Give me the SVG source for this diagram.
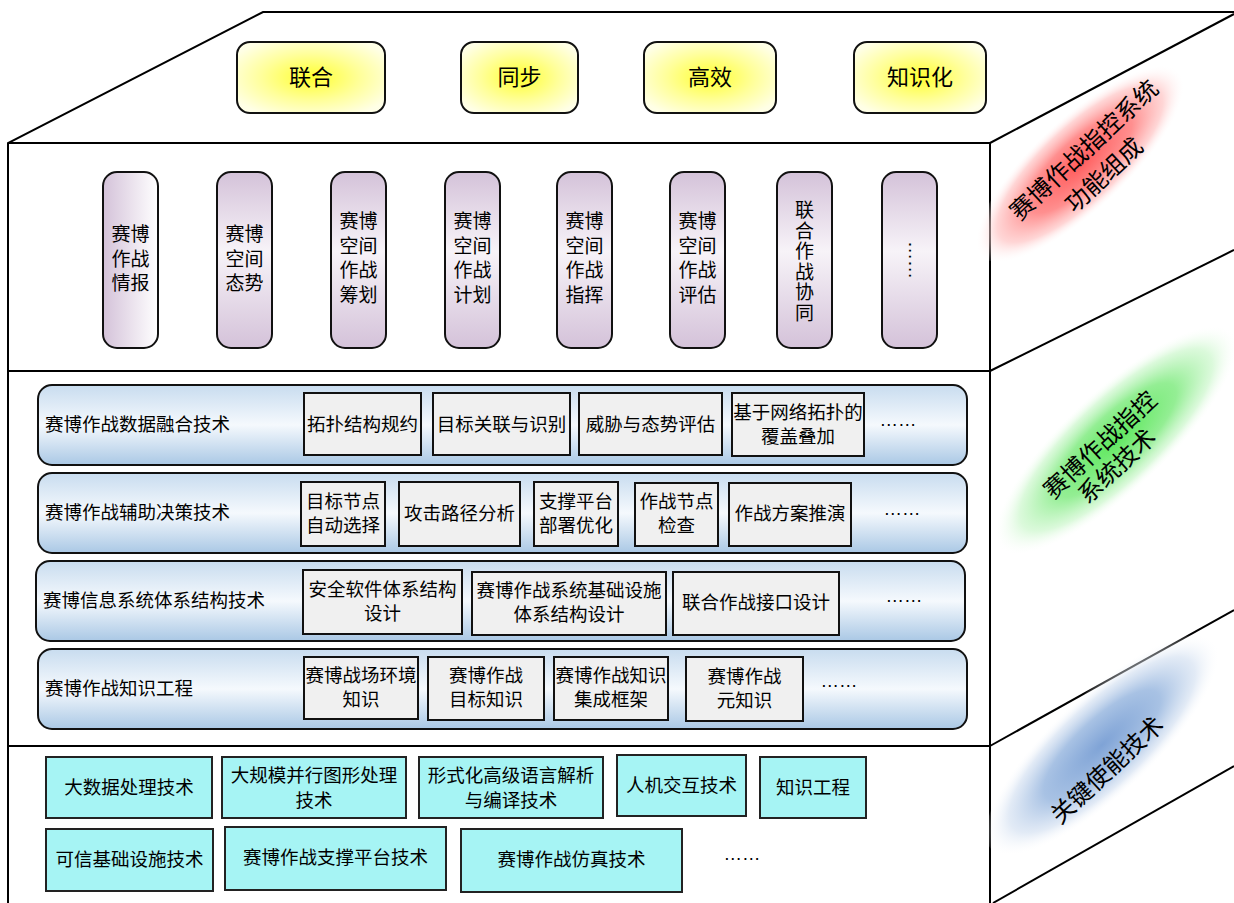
<svg xmlns="http://www.w3.org/2000/svg" width="1234" height="903" viewBox="0 0 1234 903">
<defs>
<radialGradient id="gYellow" cx="50%" cy="50%" r="60%">
<stop offset="0" stop-color="#ffff30"/>
<stop offset="0.55" stop-color="#ffff9a"/>
<stop offset="1" stop-color="#ffffe6"/>
</radialGradient>
<linearGradient id="gPill" x1="0" y1="0" x2="0" y2="1">
<stop offset="0" stop-color="#d4c2d9"/>
<stop offset="0.45" stop-color="#f7f3f8"/>
<stop offset="1" stop-color="#d4c2d9"/>
</linearGradient>
<linearGradient id="gPill1" x1="0" y1="0" x2="1" y2="0">
<stop offset="0" stop-color="#d4c2d9"/>
<stop offset="1" stop-color="#ffffff"/>
</linearGradient>
<linearGradient id="gRow" x1="0" y1="0" x2="0" y2="1">
<stop offset="0" stop-color="#c8dcef"/>
<stop offset="0.5" stop-color="#f5f9fd"/>
<stop offset="1" stop-color="#aac8e5"/>
</linearGradient>
<radialGradient id="gRed">
<stop offset="0" stop-color="#ff5c5c"/>
<stop offset="0.5" stop-color="#ff8f8f"/>
<stop offset="0.8" stop-color="#ffc4c4" stop-opacity="0.7"/>
<stop offset="1" stop-color="#ffffff" stop-opacity="0.1"/>
</radialGradient>
<radialGradient id="gGreen">
<stop offset="0" stop-color="#5ee85e"/>
<stop offset="0.5" stop-color="#94ee94"/>
<stop offset="0.8" stop-color="#ccf7cc" stop-opacity="0.7"/>
<stop offset="1" stop-color="#ffffff" stop-opacity="0.1"/>
</radialGradient>
<radialGradient id="gBlue">
<stop offset="0" stop-color="#7fa3d6"/>
<stop offset="0.5" stop-color="#a8c2e4"/>
<stop offset="0.8" stop-color="#d6e2f2" stop-opacity="0.7"/>
<stop offset="1" stop-color="#ffffff" stop-opacity="0.1"/>
</radialGradient>
</defs>
<style>
text{font-family:"Liberation Sans","Noto Sans CJK SC",sans-serif;fill:#000;}
.ln{stroke:#000;stroke-width:2;fill:none;}
.yb{fill:url(#gYellow);stroke:#111;stroke-width:2;}
.pill{fill:url(#gPill);stroke:#111;stroke-width:2;}
.row{fill:url(#gRow);stroke:#111;stroke-width:2;}
.gb{fill:#f0f0f0;stroke:#111;stroke-width:2;}
.cb{fill:#a6f4f4;stroke:#222;stroke-width:2;}
.t22{font-size:22px;text-anchor:middle;dominant-baseline:central;}
.t19{font-size:19px;text-anchor:middle;dominant-baseline:central;}
.t18{font-size:18.5px;text-anchor:middle;dominant-baseline:central;}
.tl{font-size:18.5px;dominant-baseline:central;}
.side{font-size:24px;text-anchor:middle;dominant-baseline:central;}
</style>
<rect width="1234" height="903" fill="#fff"/>

<g id="frame">
<polyline class="ln" points="8,903 8,143 263,12 1234,12"/>
<line class="ln" x1="8" y1="143" x2="990" y2="143"/>
<line class="ln" x1="990" y1="143" x2="990" y2="903"/>
<line class="ln" x1="990" y1="143" x2="1234" y2="14"/>
<line class="ln" x1="8" y1="371" x2="990" y2="371"/>
<line class="ln" x1="990" y1="371" x2="1234" y2="250"/>
<line class="ln" x1="8" y1="746" x2="990" y2="746"/>
<line class="ln" x1="990" y1="746" x2="1234" y2="610"/>
<line class="ln" x1="993" y1="903" x2="1234" y2="766"/>
</g>

<g id="side-labels">
<ellipse cx="0" cy="0" rx="135" ry="46" fill="url(#gRed)" transform="translate(1080,164) rotate(-43)"/>
<ellipse cx="0" cy="0" rx="158" ry="50" fill="url(#gGreen)" transform="translate(1116,440) rotate(-43)"/>
<ellipse cx="0" cy="0" rx="152" ry="50" fill="url(#gBlue)" transform="translate(1102,745) rotate(-43)"/>
<text class="side" transform="translate(1084,150) rotate(-43)">赛博作战指控系统</text>
<text class="side" transform="translate(1104,175) rotate(-43)">功能组成</text>
<text class="side" transform="translate(1100,445) rotate(-43)">赛博作战指控</text>
<text class="side" transform="translate(1117,466) rotate(-43)">系统技术</text>
<text class="side" transform="translate(1107,770) rotate(-43)">关键使能技术</text>
</g>

<g id="n-lianhe"><rect class="yb" x="237" y="42" width="148" height="71" rx="13"/><text class="t22" x="311" y="77">联合</text></g>
<g id="n-tongbu"><rect class="yb" x="461" y="42" width="117" height="71" rx="13"/><text class="t22" x="519.5" y="77">同步</text></g>
<g id="n-gaoxiao"><rect class="yb" x="644" y="42" width="132" height="71" rx="13"/><text class="t22" x="710" y="77">高效</text></g>
<g id="n-zhishihua"><rect class="yb" x="854" y="42" width="132" height="71" rx="13"/><text class="t22" x="920" y="77">知识化</text></g>

<g id="p1"><rect x="103" y="172" width="55" height="176" rx="14" fill="url(#gPill1)" stroke="#111" stroke-width="2"/>
<text class="t19"><tspan x="130.5" y="234">赛博</tspan><tspan x="130.5" y="258.5">作战</tspan><tspan x="130.5" y="283">情报</tspan></text></g>
<g id="p2"><rect class="pill" x="217" y="172" width="55" height="176" rx="14"/>
<text class="t19"><tspan x="244.5" y="234">赛博</tspan><tspan x="244.5" y="258.5">空间</tspan><tspan x="244.5" y="283">态势</tspan></text></g>
<g id="p3"><rect class="pill" x="331" y="172" width="55" height="176" rx="14"/>
<text class="t19"><tspan x="358.5" y="221">赛博</tspan><tspan x="358.5" y="245.5">空间</tspan><tspan x="358.5" y="270">作战</tspan><tspan x="358.5" y="294.5">筹划</tspan></text></g>
<g id="p4"><rect class="pill" x="445" y="172" width="55" height="176" rx="14"/>
<text class="t19"><tspan x="472.5" y="221">赛博</tspan><tspan x="472.5" y="245.5">空间</tspan><tspan x="472.5" y="270">作战</tspan><tspan x="472.5" y="294.5">计划</tspan></text></g>
<g id="p5"><rect class="pill" x="557" y="172" width="55" height="176" rx="14"/>
<text class="t19"><tspan x="584.5" y="221">赛博</tspan><tspan x="584.5" y="245.5">空间</tspan><tspan x="584.5" y="270">作战</tspan><tspan x="584.5" y="294.5">指挥</tspan></text></g>
<g id="p6"><rect class="pill" x="670" y="172" width="55" height="176" rx="14"/>
<text class="t19"><tspan x="697.5" y="221">赛博</tspan><tspan x="697.5" y="245.5">空间</tspan><tspan x="697.5" y="270">作战</tspan><tspan x="697.5" y="294.5">评估</tspan></text></g>
<g id="p7"><rect class="pill" x="777" y="172" width="55" height="176" rx="14"/>
<text class="t19"><tspan x="804.5" y="210">联</tspan><tspan x="804.5" y="230.5">合</tspan><tspan x="804.5" y="251">作</tspan><tspan x="804.5" y="271.5">战</tspan><tspan x="804.5" y="292">协</tspan><tspan x="804.5" y="312.5">同</tspan></text></g>
<g id="p8"><rect class="pill" x="882" y="172" width="55" height="176" rx="14"/>
<text class="t19" transform="translate(915.5,260) rotate(90)">……</text></g>

<g id="row1"><rect class="row" x="38" y="385" width="929" height="80" rx="14"/>
<text class="tl" x="45" y="424">赛博作战数据融合技术</text>
<rect class="gb" x="304" y="393" width="117" height="62"/><text class="t18" x="362.5" y="424">拓扑结构规约</text>
<rect class="gb" x="433" y="393" width="137" height="62"/><text class="t18" x="501.5" y="424">目标关联与识别</text>
<rect class="gb" x="579" y="393" width="143" height="62"/><text class="t18" x="650.5" y="424">威胁与态势评估</text>
<rect class="gb" x="732" y="393" width="132" height="63"/><text class="t18"><tspan x="798" y="412">基于网络拓扑的</tspan><tspan x="798" y="436">覆盖叠加</tspan></text>
<text class="t18" x="898" y="419">……</text></g>

<g id="row2"><rect class="row" x="38" y="473" width="929" height="80" rx="14"/>
<text class="tl" x="45" y="512">赛博作战辅助决策技术</text>
<rect class="gb" x="301" y="482" width="84" height="64"/><text class="t18"><tspan x="343" y="501">目标节点</tspan><tspan x="343" y="525">自动选择</tspan></text>
<rect class="gb" x="399" y="482" width="121" height="64"/><text class="t18" x="459.5" y="513">攻击路径分析</text>
<rect class="gb" x="534" y="482" width="84" height="64"/><text class="t18"><tspan x="576" y="501">支撑平台</tspan><tspan x="576" y="525">部署优化</tspan></text>
<rect class="gb" x="635" y="483" width="83" height="63"/><text class="t18"><tspan x="676.5" y="501">作战节点</tspan><tspan x="676.5" y="525">检查</tspan></text>
<rect class="gb" x="729" y="483" width="122" height="63"/><text class="t18" x="790" y="513">作战方案推演</text>
<text class="t18" x="902" y="508">……</text></g>

<g id="row3"><rect class="row" x="36" y="561" width="929" height="80" rx="14"/>
<text class="tl" x="43" y="600">赛博信息系统体系结构技术</text>
<rect class="gb" x="303" y="570" width="159" height="64"/><text class="t18"><tspan x="382.5" y="589">安全软件体系结构</tspan><tspan x="382.5" y="613">设计</tspan></text>
<rect class="gb" x="472" y="572" width="194" height="63"/><text class="t18"><tspan x="569" y="590">赛博作战系统基础设施</tspan><tspan x="569" y="614">体系结构设计</tspan></text>
<rect class="gb" x="673" y="572" width="166" height="63"/><text class="t18" x="756" y="602">联合作战接口设计</text>
<text class="t18" x="904" y="595">……</text></g>

<g id="row4"><rect class="row" x="38" y="649" width="929" height="80" rx="14"/>
<text class="tl" x="45" y="688">赛博作战知识工程</text>
<rect class="gb" x="304" y="657" width="114" height="62"/><text class="t18"><tspan x="361" y="675">赛博战场环境</tspan><tspan x="361" y="699">知识</tspan></text>
<rect class="gb" x="428" y="657" width="116" height="63"/><text class="t18"><tspan x="486" y="675">赛博作战</tspan><tspan x="486" y="699">目标知识</tspan></text>
<rect class="gb" x="554" y="657" width="114" height="63"/><text class="t18"><tspan x="611" y="675">赛博作战知识</tspan><tspan x="611" y="699">集成框架</tspan></text>
<rect class="gb" x="686" y="657" width="117" height="64"/><text class="t18"><tspan x="744.5" y="676">赛博作战</tspan><tspan x="744.5" y="700">元知识</tspan></text>
<text class="t18" x="839" y="680">……</text></g>

<g id="b1"><rect class="cb" x="46" y="757" width="166" height="61"/><text class="t18" x="129" y="787">大数据处理技术</text></g>
<g id="b2"><rect class="cb" x="222" y="757" width="184" height="61"/><text class="t18"><tspan x="314" y="775">大规模并行图形处理</tspan><tspan x="314" y="800">技术</tspan></text></g>
<g id="b3"><rect class="cb" x="419" y="757" width="184" height="61"/><text class="t18"><tspan x="511" y="775">形式化高级语言解析</tspan><tspan x="511" y="800">与编译技术</tspan></text></g>
<g id="b4"><rect class="cb" x="617" y="755" width="129" height="61"/><text class="t18" x="681.5" y="785">人机交互技术</text></g>
<g id="b5"><rect class="cb" x="760" y="757" width="106" height="61"/><text class="t18" x="813" y="787">知识工程</text></g>
<g id="b6"><rect class="cb" x="46" y="829" width="167" height="62"/><text class="t18" x="129.5" y="859">可信基础设施技术</text></g>
<g id="b7"><rect class="cb" x="225" y="827" width="221" height="63"/><text class="t18" x="335.5" y="857">赛博作战支撑平台技术</text></g>
<g id="b8"><rect class="cb" x="461" y="829" width="221" height="63"/><text class="t18" x="571.5" y="859">赛博作战仿真技术</text></g>
<g id="b9"><text class="t18" x="742" y="853">……</text></g>

<g id="connectors"></g>
</svg>
